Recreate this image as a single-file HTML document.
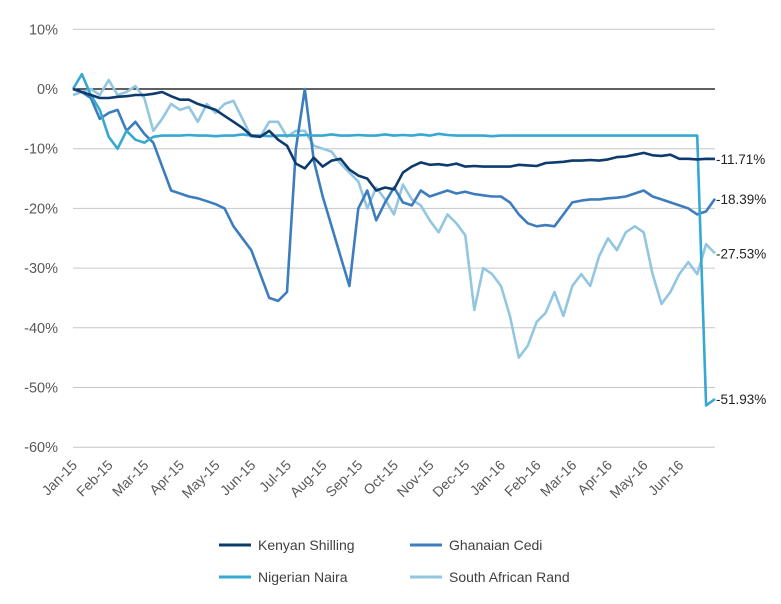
<!DOCTYPE html>
<html><head><meta charset="utf-8"><style>
body{margin:0;background:#fff;}
svg{display:block;font-family:"Liberation Sans",Arial,sans-serif;}
</style></head><body>
<svg id="chart" width="781" height="604" viewBox="0 0 781 604" xmlns="http://www.w3.org/2000/svg">
<g id="grid"></g>
<g id="yaxis"></g>
<g id="xaxis"></g>
<g id="series"></g>
<g id="endlabels"></g>
<g id="legend"></g>
</svg>
<script>
const months = ["Jan-15","Feb-15","Mar-15","Apr-15","May-15","Jun-15","Jul-15","Aug-15","Sep-15","Oct-15","Nov-15","Dec-15","Jan-16","Feb-16","Mar-16","Apr-16","May-16","Jun-16"];
const yTicks = [10,0,-10,-20,-30,-40,-50,-60];
const timeSteps = [0,0.25,0.5,0.75,1,1.25,1.5,1.75,2,2.25,2.5,2.75,3,3.25,3.5,3.75,4,4.25,4.5,4.75,5,5.25,5.5,5.75,6,6.25,6.5,6.75,7,7.25,7.5,7.75,8,8.25,8.5,8.75,9,9.25,9.5,9.75,10,10.25,10.5,10.75,11,11.25,11.5,11.75,12,12.25,12.5,12.75,13,13.25,13.5,13.75,14,14.25,14.5,14.75,15,15.25,15.5,15.75,16,16.25,16.5,16.75,17,17.25,17.5,17.75,18];
const kenya = [0,-0.5,-1,-1.5,-1.5,-1.3,-1.2,-1,-1,-0.8,-0.5,-1.2,-1.8,-1.8,-2.5,-3,-3.5,-4.5,-5.5,-6.5,-7.8,-8,-7,-8.5,-9.5,-12.5,-13.3,-11.5,-13,-12,-11.7,-13.5,-14.5,-15,-17,-16.5,-16.8,-14,-13,-12.3,-12.7,-12.6,-12.8,-12.5,-13,-12.9,-13,-13,-13,-13,-12.7,-12.8,-12.9,-12.4,-12.3,-12.2,-12,-12,-11.9,-12,-11.8,-11.4,-11.3,-11,-10.7,-11.1,-11.2,-11,-11.7,-11.7,-11.8,-11.7,-11.71];
const ghana = [0,-0.5,-1.5,-5,-4,-3.5,-7,-5.5,-7.5,-9,-13,-17,-17.5,-18,-18.3,-18.8,-19.3,-20,-23,-25,-27,-31,-35,-35.5,-34,-10,0,-12,-18,-23,-28,-33,-20,-17,-22,-19,-16.5,-19,-19.5,-17,-18,-17.5,-17,-17.5,-17.2,-17.6,-17.8,-18,-18,-19,-21,-22.5,-23,-22.8,-23,-21,-19,-18.7,-18.5,-18.5,-18.3,-18.2,-18,-17.5,-17,-18,-18.5,-19,-19.5,-20,-21,-20.5,-18.39];
const naira = [0,2.5,-1,-3.5,-8,-10,-7,-8.5,-9,-8,-7.8,-7.8,-7.8,-7.7,-7.8,-7.8,-7.9,-7.8,-7.8,-7.6,-7.8,-7.8,-7.9,-7.8,-7.8,-7.8,-7.7,-7.8,-7.8,-7.6,-7.8,-7.8,-7.7,-7.8,-7.8,-7.6,-7.8,-7.7,-7.8,-7.6,-7.8,-7.5,-7.7,-7.8,-7.8,-7.8,-7.8,-7.9,-7.8,-7.8,-7.8,-7.8,-7.8,-7.8,-7.8,-7.8,-7.8,-7.8,-7.8,-7.8,-7.8,-7.8,-7.8,-7.8,-7.8,-7.8,-7.8,-7.8,-7.8,-7.8,-7.8,-53,-51.93];
const rand = [-1,-0.5,0,-1,1.5,-1,-0.5,0.5,-1.5,-7,-5,-2.5,-3.5,-3,-5.5,-2.5,-4,-2.5,-2,-5,-8,-8,-5.5,-5.5,-8,-7,-7,-9.5,-10,-10.5,-12.5,-14,-15.5,-20,-16.5,-18.5,-21,-16,-18.5,-19.5,-22,-24,-21,-22.5,-24.5,-37,-30,-31,-33,-38,-45,-43,-39,-37.5,-34,-38,-33,-31,-33,-28,-25,-27,-24,-23,-24,-31,-36,-34,-31,-29,-31,-26,-27.53];
const seriesNames = ["South African Rand","Ghanaian Cedi","Nigerian Naira","Kenyan Shilling"];
const endLabels = ["-11.71%","-18.39%","-27.53%","-51.93%"];

const NS="http://www.w3.org/2000/svg";
const X0=73,X1=715,Y0=89,PX10=59.7;
const xs=t=>X0+t*(X1-X0)/18;
const ys=v=>Y0-v*PX10/10;
function mk(tag,attrs,parent){const e=document.createElementNS(NS,tag);for(const k in attrs)e.setAttribute(k,attrs[k]);parent.appendChild(e);return e;}

const grid=document.getElementById('grid'),yaxis=document.getElementById('yaxis'),xaxis=document.getElementById('xaxis');
yTicks.forEach(v=>{
  const l=mk('line',{x1:X0,x2:X1,y1:ys(v),y2:ys(v),stroke:v===0?'#000':'#c6c6c6','stroke-width':v===0?1.2:1},grid);
  
  
  const t=mk('text',{x:58,y:ys(v)+5,'text-anchor':'end','font-size':14.5,fill:'#595959'},yaxis);
  t.textContent=v+'%';
  
  
});
months.forEach((m,i)=>{
  const x=xs(i)+5,y=466;
  const t=mk('text',{x:x,y:y,'text-anchor':'end','font-size':14,fill:'#595959',transform:`rotate(-45 ${x} ${y})`},xaxis);
  t.textContent=m;
  
  
});
const colors={"Kenyan Shilling":"#0d3b6e","Ghanaian Cedi":"#3e7dbd","Nigerian Naira":"#36a8d2","South African Rand":"#93c6e0"};
const dataMap={"Kenyan Shilling":kenya,"Ghanaian Cedi":ghana,"Nigerian Naira":naira,"South African Rand":rand};
const sg=document.getElementById('series');
seriesNames.forEach(n=>{
  const vals=dataMap[n];
  const d=vals.map((v,i)=>(i?'L':'M')+xs(timeSteps[i]).toFixed(1)+','+ys(v).toFixed(1)).join('');
  const p=mk('path',{d:d,fill:'none',stroke:colors[n],'stroke-width':2.6,'stroke-linejoin':'round'},sg);
  
  
});
const eg=document.getElementById('endlabels');
const lastVals=[kenya[kenya.length-1],ghana[ghana.length-1],rand[rand.length-1],naira[naira.length-1]];
lastVals.forEach((v,i)=>{
  const t=mk('text',{x:X1+1,y:ys(v)+5,'font-size':13.5,fill:'#222'},eg);
  t.textContent=endLabels[i];
  
  
});
const lg=document.getElementById('legend');
const legendOrder=["Kenyan Shilling","Ghanaian Cedi","Nigerian Naira","South African Rand"];
legendOrder.forEach((n,i)=>{
  const x=i%2?410:219,y=i<2?545:577;
  const g=mk('g',{},lg);
  
  
  mk('line',{x1:x,x2:x+32,y1:y,y2:y,stroke:colors[n],'stroke-width':3},g);
  const t=mk('text',{x:x+39,y:y+5,'font-size':14,fill:'#404040'},g);
  t.textContent=n;
});
</script>
</body></html>
